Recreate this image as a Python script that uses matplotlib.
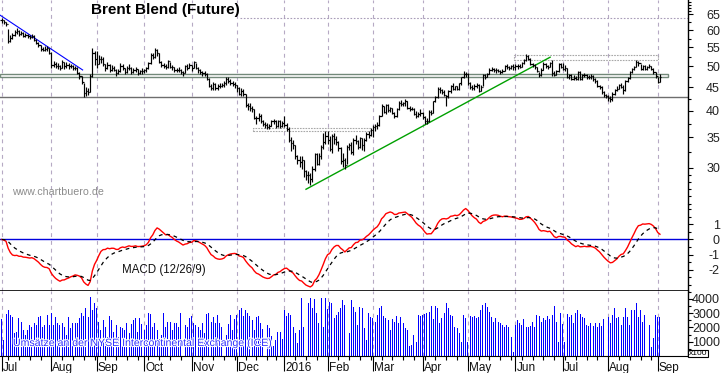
import numpy as np
import pandas as pd
import matplotlib
matplotlib.use('Agg')
import matplotlib.pyplot as plt
import matplotlib.patheffects as pe
from matplotlib.ticker import FixedLocator, FixedFormatter, NullFormatter
from matplotlib.patches import Rectangle

plt.rcParams['font.family'] = ['Liberation Sans', 'DejaVu Sans']
plt.rcParams['axes.unicode_minus'] = False

# trading days, no bars on Christmas and New Year
days = pd.bdate_range('2015-07-01', '2016-09-02')
days = days.drop(pd.to_datetime(['2015-12-25', '2016-01-01']))

close = [
    # Jul 2015
    63.0, 62.5, 61.9, 56.9, 57.8, 58.4, 59.4, 59.8, 58.7, 59.2, 58.3, 58.6, 58.2, 57.9, 58.3, 57.1, 56.2, 55.6, 54.6, 54.3, 54.5, 54.7, 53.5,
    # Aug
    50.3, 50.6, 50.2, 50.0, 49.6, 51.0, 50.0, 50.4, 50.0, 50.1, 49.6, 49.7, 48.3, 47.6, 46.3, 43.7, 44.2, 44.0, 47.6, 53.5, 51.8,
    # Sep
    50.6, 51.8, 52.0, 50.6, 49.5, 50.4, 49.0, 49.7, 49.2, 48.3, 48.9, 50.2, 49.6, 48.7, 49.6, 49.7, 48.6, 49.0, 49.3, 48.3, 48.8, 48.9,
    # Oct
    49.0, 49.5, 50.8, 53.0, 52.4, 54.2, 53.6, 51.0, 50.3, 50.1, 49.8, 51.4, 49.8, 49.9, 49.0, 49.1, 49.2, 48.6, 48.3, 50.0, 49.7, 50.4,
    # Nov
    49.7, 51.0, 49.6, 49.2, 48.6, 48.3, 48.2, 47.0, 45.3, 44.9, 45.7, 44.8, 45.2, 45.3, 45.6, 45.9, 47.0, 46.4, 46.1, 45.8, 45.6,
    # Dec
    44.8, 43.5, 44.2, 43.5, 41.2, 40.9, 40.5, 40.3, 38.6, 38.5, 38.9, 37.9, 37.4, 37.2, 36.9, 37.1, 37.9, 38.0, 37.0, 37.9, 37.0, 37.6,
    # Jan 2016
    37.3, 36.5, 34.5, 34.0, 33.6, 31.8, 31.2, 30.9, 31.3, 29.5, 28.9, 28.9, 28.4, 29.8, 32.2, 30.6, 31.9, 33.3, 34.2, 35.2,
    # Feb
    34.6, 33.0, 35.2, 34.7, 34.2, 33.2, 31.0, 31.2, 30.4, 33.4, 33.6, 32.5, 34.6, 34.4, 33.3, 34.9, 33.6, 34.6, 35.5, 35.4, 36.3,
    # Mar
    36.9, 37.0, 37.2, 38.9, 40.9, 39.8, 41.1, 40.2, 40.5, 39.6, 38.9, 40.4, 41.6, 41.3, 41.6, 41.9, 40.6, 40.4, 40.4, 39.4, 38.9, 39.3, 39.6,
    # Apr
    38.7, 37.9, 38.0, 39.8, 39.6, 41.9, 42.8, 44.6, 44.3, 43.9, 43.3, 43.0, 44.1, 45.3, 44.6, 45.2, 44.6, 45.9, 47.3, 48.2, 48.1,
    # May
    45.9, 45.1, 44.9, 45.3, 45.6, 44.2, 45.1, 47.9, 47.4, 48.1, 49.2, 49.4, 49.1, 49.0, 48.9, 48.6, 48.9, 50.0, 49.8, 49.6, 50.0, 49.9,
    # Jun
    50.0, 50.2, 49.9, 50.8, 51.6, 52.6, 52.0, 50.6, 50.3, 49.8, 48.9, 47.9, 49.2, 50.6, 50.1, 49.9, 50.8, 48.4, 47.8, 48.8, 50.5, 49.8,
    # Jul
    49.3, 49.5, 47.4, 47.9, 47.0, 47.2, 47.0, 48.6, 47.0, 47.8, 47.9, 47.3, 47.5, 47.6, 46.9, 46.4, 45.3, 45.0, 43.9, 43.3, 43.0,
    # Aug
    42.6, 42.4, 43.5, 44.4, 44.6, 45.5, 45.1, 44.3, 46.4, 47.2, 48.6, 49.4, 49.9, 51.0, 50.9, 49.3, 50.1, 49.3, 49.8, 50.0, 49.3, 48.6, 47.6,
    # Sep
    46.3, 47.4,
]

high = [
    63.7, 63.2, 62.6, 60.4, 58.5, 59.0, 60.0, 60.5, 59.9, 59.6, 59.3, 59.0, 58.9, 58.6, 58.8, 58.4, 57.4, 56.6, 55.8, 55.1, 55.3, 55.4, 54.9,
    53.8, 51.3, 51.0, 50.8, 50.4, 51.6, 51.2, 51.0, 50.8, 50.6, 50.3, 50.2, 49.9, 48.6, 47.6, 46.0, 45.0, 44.9, 48.0, 54.7, 53.9,
    53.9, 53.0, 52.8, 52.3, 50.6, 51.0, 50.6, 50.3, 50.0, 49.3, 49.4, 50.8, 50.6, 49.7, 50.1, 50.5, 49.9, 49.5, 49.9, 49.4, 49.2, 49.5,
    49.4, 49.8, 51.2, 53.4, 53.6, 54.9, 54.6, 53.6, 51.3, 50.8, 50.6, 51.7, 51.2, 50.3, 49.8, 49.6, 49.9, 49.3, 48.9, 50.4, 50.6, 50.8,
    50.3, 51.4, 50.9, 49.9, 49.3, 48.9, 48.8, 48.4, 47.2, 45.7, 46.2, 45.9, 45.7, 45.9, 46.0, 46.4, 47.4, 47.4, 46.9, 46.4, 46.3,
    45.6, 45.0, 44.9, 44.6, 43.6, 41.6, 41.5, 40.9, 40.4, 39.0, 39.5, 39.4, 38.1, 37.8, 37.6, 37.5, 38.2, 38.4, 38.2, 38.2, 38.1, 38.0,
    38.9, 37.6, 36.8, 35.0, 34.6, 33.6, 32.0, 31.8, 31.8, 31.3, 29.7, 29.6, 29.2, 30.3, 32.4, 32.3, 32.4, 33.7, 35.8, 36.1,
    36.2, 35.2, 35.6, 35.8, 35.2, 34.4, 33.4, 32.3, 31.6, 33.6, 34.0, 34.2, 34.8, 35.4, 34.6, 35.1, 34.9, 34.8, 35.9, 36.2, 36.7,
    37.3, 37.5, 37.8, 39.2, 41.3, 41.0, 41.3, 41.4, 40.8, 40.6, 39.7, 40.6, 41.9, 42.3, 41.8, 42.5, 41.9, 40.9, 40.7, 40.5, 39.9, 39.8, 40.3,
    39.8, 38.9, 38.6, 40.1, 40.2, 42.1, 43.1, 45.0, 45.1, 44.7, 44.4, 43.4, 44.5, 45.6, 46.0, 45.4, 45.3, 46.0, 47.5, 48.8, 48.5,
    48.3, 46.2, 45.6, 45.8, 45.9, 45.8, 45.5, 48.2, 48.1, 48.4, 49.5, 49.8, 49.6, 49.6, 49.4, 49.2, 49.4, 50.4, 50.6, 50.0, 50.3, 50.5,
    50.5, 50.5, 50.6, 51.0, 51.9, 53.2, 52.9, 52.1, 50.9, 50.6, 49.9, 48.7, 49.5, 51.0, 50.8, 50.4, 51.1, 51.5, 48.8, 49.0, 50.8, 50.9,
    50.9, 50.4, 49.7, 48.2, 48.1, 47.8, 47.7, 48.9, 48.8, 48.1, 48.4, 48.0, 47.9, 48.2, 47.8, 47.1, 46.6, 45.6, 45.3, 44.1, 43.6,
    43.4, 43.0, 43.9, 44.7, 45.3, 45.8, 45.9, 45.6, 46.8, 47.4, 48.9, 49.6, 50.0, 51.5, 51.4, 50.7, 50.3, 50.4, 50.1, 50.5, 50.2, 49.5, 48.6,
    47.5, 48.0,
]

low = [
    62.2, 62.0, 61.2, 56.3, 56.6, 57.4, 58.2, 58.8, 58.3, 58.4, 57.9, 57.9, 57.7, 57.4, 57.6, 56.8, 55.9, 55.1, 54.1, 53.9, 53.9, 54.1, 53.2,
    49.6, 49.8, 49.5, 49.3, 49.0, 49.5, 49.4, 49.5, 49.4, 49.5, 49.1, 49.0, 48.0, 46.9, 45.8, 42.9, 43.0, 43.4, 43.9, 47.5, 50.4,
    49.5, 50.6, 50.9, 50.2, 48.9, 49.3, 48.6, 48.8, 48.8, 47.6, 48.1, 48.6, 49.0, 48.2, 48.4, 49.0, 48.2, 48.3, 48.6, 47.9, 48.0, 48.2,
    48.3, 48.7, 49.4, 50.7, 51.8, 52.2, 52.8, 50.8, 49.8, 49.5, 49.3, 49.7, 49.5, 49.1, 48.7, 48.5, 48.6, 48.1, 47.6, 48.4, 49.2, 49.5,
    48.9, 49.6, 49.3, 48.4, 48.1, 47.7, 47.6, 46.8, 45.0, 44.3, 44.5, 44.5, 44.4, 44.8, 45.0, 45.1, 45.6, 46.0, 45.5, 45.4, 44.8,
    44.0, 43.2, 43.1, 43.0, 40.8, 40.1, 40.0, 39.8, 38.3, 37.5, 38.0, 37.6, 37.0, 36.7, 36.4, 36.5, 37.0, 37.4, 36.7, 36.8, 36.6, 36.8,
    36.8, 36.1, 34.1, 32.7, 33.0, 31.4, 30.6, 30.2, 29.9, 28.7, 28.2, 27.8, 27.5, 28.0, 29.6, 30.4, 30.4, 31.4, 33.0, 33.8,
    33.9, 32.6, 32.4, 33.9, 33.6, 32.6, 30.6, 30.2, 29.8, 30.6, 32.8, 32.2, 32.0, 33.9, 33.0, 33.1, 32.8, 32.6, 34.4, 34.9, 35.2,
    35.0, 36.2, 36.5, 37.1, 38.9, 39.5, 39.4, 39.8, 39.7, 39.3, 38.6, 38.7, 40.2, 40.9, 41.0, 41.0, 40.4, 39.9, 40.1, 39.1, 38.6, 38.7, 39.0,
    38.3, 37.5, 37.4, 37.8, 39.2, 39.5, 41.7, 42.6, 43.8, 43.5, 43.0, 40.9, 42.7, 43.8, 44.3, 44.5, 44.3, 44.4, 45.6, 47.2, 47.4,
    45.5, 44.7, 44.3, 44.5, 44.9, 44.0, 44.2, 45.2, 47.0, 47.3, 48.0, 48.8, 48.6, 48.4, 48.5, 48.2, 48.3, 48.8, 49.3, 49.1, 49.4, 49.2,
    49.2, 49.4, 49.6, 49.8, 50.7, 51.4, 51.6, 50.3, 49.8, 49.4, 48.6, 47.3, 47.6, 49.0, 49.5, 49.3, 49.8, 47.6, 47.6, 47.9, 48.7, 49.5,
    49.0, 48.9, 47.1, 46.9, 46.8, 46.7, 46.6, 46.6, 46.7, 46.6, 47.4, 46.9, 46.9, 47.0, 46.5, 46.1, 45.1, 44.6, 43.6, 42.9, 42.6,
    42.0, 41.8, 41.9, 43.3, 44.1, 44.6, 44.8, 43.6, 44.2, 46.2, 47.0, 48.4, 49.1, 49.8, 50.2, 49.1, 49.2, 49.0, 49.1, 49.5, 49.0, 48.2, 47.2,
    45.9, 46.2,
]

# contracts x100
volume = [
    2600, 1100, 2950, 3250, 2900, 2750, 1600, 1700, 2650, 2400, 1850, 1450, 1850, 2200, 2050, 2300, 2200, 2750, 2800, 2050, 2150, 2900, 2200,
    3000, 2200, 2750, 2300, 2200, 2300, 2050, 1500, 2750, 1950, 2300, 2350, 2350, 2650, 3000, 2800, 3350, 2750, 4150, 3250, 3700,
    3350, 2400, 1850, 2550, 2050, 1300, 2800, 2500, 1700, 2150, 1300, 2050, 1950, 1800, 2300, 1600, 2250, 2500, 2700, 1650, 2650, 2250,
    1850, 2200, 3000, 2950, 2050, 2300, 1800, 1200, 1500, 3000, 2000, 2400, 2400, 1850, 2300, 2350, 2050, 3000, 2300, 2150, 2050, 2700,
    2800, 2300, 2150, 2050, 1850, 2300, 1600, 2950, 3000, 2400, 2750, 2350, 2900, 2350, 2050, 2750, 1500, 2250, 2900, 1800, 2600,
    2900, 3250, 3350, 2800, 3250, 3050, 2800, 2550, 1850, 2750, 2800, 2300, 1900, 2100, 2150, 1950, 1400, 700, 1100, 1650, 1650, 1200,
    3250, 2800, 3000, 2900, 2050, 1600, 900, 1850, 4050, 2050, 4050, 3700, 4050, 3350, 4000, 3050, 2300, 4050, 2050, 4050,
    3300, 3800, 3700, 2650, 2900, 3100, 3350, 3950, 3600, 3950, 1600, 3950, 3450, 3100, 2200, 3450, 3350, 1950, 1150, 3000, 2750,
    2650, 2400, 2900, 3350, 3500, 2800, 2650, 2550, 1850, 2600, 2400, 2800, 2300, 2750, 2300, 1950, 1850, 700, 800, 1500, 1000, 2900, 2800,
    2850, 2950, 3050, 3100, 3500, 2600, 3500, 3400, 2300, 2650, 3000, 3700, 3350, 2900, 2800, 2050, 1950, 1600, 1000, 2850, 2700,
    1000, 2800, 2750, 2800, 2650, 2750, 3200, 3550, 3700, 3450, 3100, 2750, 2400, 2650, 2400, 2300, 2200, 2050, 2150, 2050, 1350, 300,
    2200, 2550, 2300, 2200, 2600, 2050, 2050, 2100, 2400, 2050, 2900, 2800, 2400, 2650, 2500, 2800, 2600, 2900, 3500, 2400, 1000, 3050,
    2250, 1000, 2950, 2750, 2900, 2300, 3050, 3200, 2950, 2750, 2650, 2200, 2100, 2300, 2100, 2300, 2050, 2300, 2100, 2600, 2950,
    2750, 2300, 2900, 3350, 2650, 2750, 2200, 2750, 3350, 2750, 2200, 3200, 3250, 3700, 2750, 3250, 2400, 2900, 2300, 2150, 650, 1250, 2850,
    2750, 2750,
]

month_labels = ['Jul', 'Aug', 'Sep', 'Oct', 'Nov', 'Dec', '2016', 'Feb',
                'Mar', 'Apr', 'May', 'Jun', 'Jul', 'Aug', 'Sep']

# drawn levels and trend lines (bar index, price)
support = 42.8
channel = (47.32, 48.04)
top_level = 63.7
box_winter = (116.6, 170.7, 36.04, 36.59)
box_summer = (237.5, 304.1, 51.6, 52.96)
trend_down = ([-0.8, 37.5], [64.7, 49.1])
trend_up = ([141.0, 254.1], [26.95, 52.35])

assert len(close) == len(high) == len(low) == len(volume) == len(days)

c = pd.Series(close)
macd = c.ewm(span=12, adjust=False).mean() - c.ewm(span=26, adjust=False).mean()
signal = macd.ewm(span=9, adjust=False).mean()

idx = np.arange(len(days))
month_pos = np.flatnonzero(np.r_[True, days.month[1:] != days.month[:-1]])
mondays = np.flatnonzero(days.dayofweek == 0)

W, H = 723, 373
fig = plt.figure(figsize=(W / 100, H / 100), dpi=100)


def panel(top, bottom):
    return fig.add_axes([0, (H - bottom) / H, 688 / W, (bottom - top) / H])


ax_p = panel(0, 205)
ax_m = panel(205, 291)
ax_v = panel(291, 356)

grid_col = '#b6a9c4'
for ax in (ax_p, ax_m, ax_v):
    ax.set_xlim(-0.79, 318.0)
    ax.yaxis.tick_right()
    for s in ('left', 'top', 'bottom'):
        ax.spines[s].set_visible(False)
    ax.spines['right'].set_linewidth(1.0)
    ax.tick_params(axis='y', which='major', length=3.6, width=0.8, pad=19.4,
                   labelsize=9, labelcolor='#222222')
    ax.tick_params(axis='y', which='minor', length=2.0, width=0.8)
    ax.tick_params(axis='x', which='both', bottom=False, labelbottom=False)
    for m in month_pos:
        ax.axvline(m, color=grid_col, lw=0.8, ls=(0, (3.5, 3.5)), zorder=0)

# price panel
ax_p.set_yscale('log')
ax_p.set_ylim(24.9, 69.8)
ax_p.yaxis.set_major_locator(FixedLocator([30, 35, 40, 45, 50, 55, 60, 65]))
ax_p.yaxis.set_major_formatter(FixedFormatter(['30', '35', '40', '45', '50', '55', '60', '65']))
ax_p.yaxis.set_minor_locator(FixedLocator([25, 26, 27, 28, 29, 32.5, 37.5, 42.5, 47.5,
                                           52.5, 57.5, 62.5, 66, 67, 68, 69]))
ax_p.yaxis.set_minor_formatter(NullFormatter())

ax_p.hlines(top_level, 110.4, 318, color='#a99cb8', lw=0.8, ls=(0, (1.5, 1.5)))
ax_p.axhline(support, color='#6e6e6e', lw=1.0)
ax_p.add_patch(Rectangle((-0.8, channel[0]), 309.6, channel[1] - channel[0],
                         fill=False, ec='#73897a', lw=1.0))
for x0, x1, y0, y1 in (box_winter, box_summer):
    ax_p.add_patch(Rectangle((x0, y0), x1 - x0, y1 - y0, fill=False,
                             ec='#a8a8a8', lw=0.8, ls=(0, (1.5, 1))))
ax_p.plot(*trend_down, color='#0000ff', lw=0.8)
ax_p.plot(*trend_up, color='#00a000', lw=1.0)

prev = np.r_[close[0], close[:-1]]
ax_p.vlines(idx, low, high, color='black', lw=0.85)
ax_p.hlines(close, idx, idx + 0.6, color='black', lw=0.85)
ax_p.hlines(prev, idx - 0.6, idx, color='black', lw=0.85)

# MACD panel
ax_m.set_ylim(-3.39, 2.27)
ax_m.spines['bottom'].set_visible(True)
ax_m.spines['bottom'].set_linewidth(1.2)
ax_m.yaxis.set_major_locator(FixedLocator([-2, -1, 0, 1]))
ax_m.yaxis.set_major_formatter(FixedFormatter(['-2', '-1', '0', '1']))
ax_m.yaxis.set_minor_locator(FixedLocator([-3, -2.5, -1.5, -0.5, 0.5, 1.5, 2]))
ax_m.yaxis.set_minor_formatter(NullFormatter())
ax_m.axhline(0, color='#0000dd', lw=1.0)
ax_m.plot(idx, macd, color='#ff0000', lw=1.0)
ax_m.plot(idx, signal, color='black', lw=0.9, ls=(0, (3, 3)))

# volume panel
ax_v.set_ylim(0, 4561)
ax_v.bar(idx, volume, width=0.45, color='#0000ff', lw=0)
ax_v.yaxis.set_major_locator(FixedLocator([1000, 2000, 3000, 4000]))
ax_v.yaxis.set_major_formatter(FixedFormatter(['1000', '2000', '3000', '4000']))
ax_v.yaxis.set_minor_locator(FixedLocator([500, 1500, 2500, 3500, 4500]))
ax_v.yaxis.set_minor_formatter(NullFormatter())
ax_v.spines['bottom'].set_visible(True)
ax_v.set_xticks(month_pos)
ax_v.set_xticks(mondays, minor=True)
ax_v.tick_params(axis='x', which='major', bottom=True, length=11, width=0.8)
ax_v.tick_params(axis='x', which='minor', bottom=True, length=3, width=0.8)
for m, lbl in zip(month_pos, month_labels):
    ax_v.text(m + 0.5, -0.231, lbl, transform=ax_v.get_xaxis_transform(),
              ha='left', va='baseline', fontsize=8.5, color='#111111')

for ax in (ax_p, ax_m, ax_v):
    plt.setp(ax.get_yticklabels(), ha='right')

# texts
fig.text(165 / W, 1 - 10 / H, 'Brent Blend (Future)', ha='center', va='center',
         fontsize=11, fontweight='bold', color='black')
fig.text(12 / W, 1 - 192 / H, 'www.chartbuero.de', ha='left', va='center',
         fontsize=7.7, color='#8c8c8c')
fig.text(164 / W, 1 - 270 / H, 'MACD (12/26/9)', ha='center', va='center',
         fontsize=8.3, color='#111111')
fig.text(13 / W, 1 - 343 / H, 'Umsätze an der NYSE Intercontinental Exchange (ICE)',
         ha='left', va='center', fontsize=7.6, color='#2f2fff',
         path_effects=[pe.withStroke(linewidth=1.6, foreground='white')])
fig.text(698 / W, 1 - 353.5 / H, 'x100', ha='center', va='center', fontsize=6,
         bbox=dict(boxstyle='square,pad=0.05', fc='white', ec='black', lw=0.8))

fig.savefig('out.png', dpi=100, facecolor='white')
